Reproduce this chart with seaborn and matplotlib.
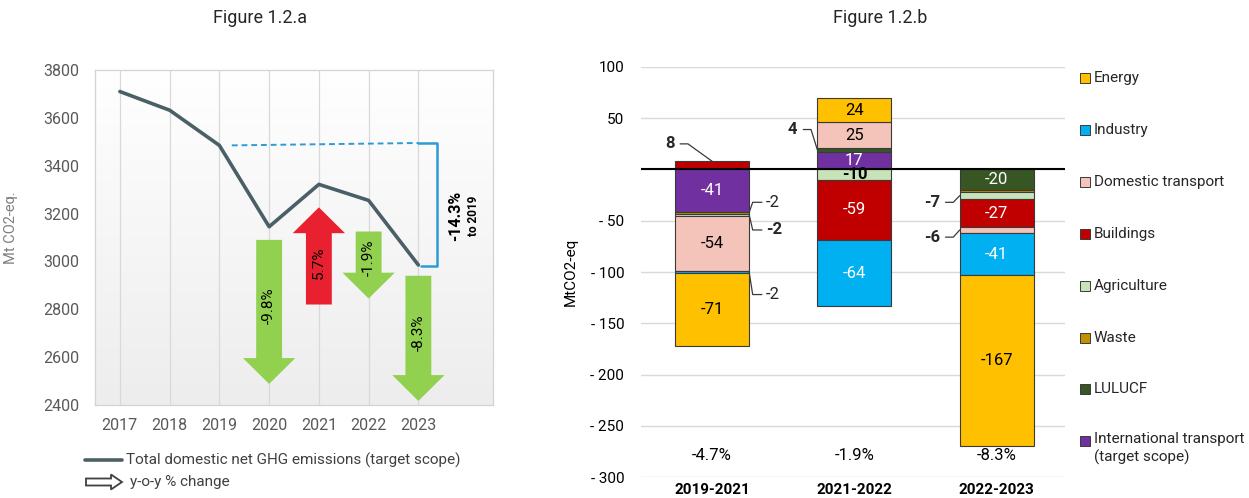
import numpy as np
import pandas as pd
import seaborn as sns
import matplotlib.pyplot as plt
from matplotlib.patches import FancyArrow, Rectangle
from matplotlib.lines import Line2D
from matplotlib.colors import LinearSegmentedColormap
from matplotlib.transforms import IdentityTransform

# ---- Figure 1.2.a data ----
years = [2017, 2018, 2019, 2020, 2021, 2022, 2023]
emissions = [3710, 3632, 3485, 3145, 3322, 3255, 2985]

arrow_years = [2020, 2021, 2022, 2023]
arrow_start = [3090, 2820, 3125, 2940]
arrow_end = [2488, 3226, 2845, 2417]
arrow_labels = ["-9.8%", "5.7%", "-1.9%", "-8.3%"]
arrow_label_y = [2815, 2996, 3017, 2703]
total_change = "-14.3%"

# ---- Figure 1.2.b data ----
periods = ["2019-2021", "2021-2022", "2022-2023"]
period_change = ["-4.7%", "-1.9%", "-8.3%"]
sectors = ["Energy", "Industry", "Domestic transport", "Buildings", "Agriculture",
           "Waste", "LULUCF", "International transport\n(target scope)"]
energy = [-71, 24, -167]
industry = [-2, -64, -41]
domestic_transport = [-54, 25, -6]
buildings = [8, -59, -27]
agriculture = [-2, -10, -7]
waste = [-2, 0, -2]
lulucf = [0, 4, -20]
intl_transport = [-41, 17, 0]

colors = ["#FFC000", "#00B0F0", "#F4C3B9", "#C00000", "#C9E3B8",
          "#BF9000", "#375623", "#7030A0"]
white_text = ["Industry", "Buildings", "LULUCF", "International transport\n(target scope)"]

df = pd.DataFrame({
    "period": periods,
    "Energy": energy, "Industry": industry, "Domestic transport": domestic_transport,
    "Buildings": buildings, "Agriculture": agriculture, "Waste": waste,
    "LULUCF": lulucf, "International transport\n(target scope)": intl_transport,
})

sns.set_theme(style="white")
plt.rcParams['font.family'] = ['Roboto', 'DejaVu Sans']

W, H = 1249, 498
fig = plt.figure(figsize=(W / 100, H / 100), dpi=100)


def px_rect(l, t, r, b):
    return [l / W, 1 - b / H, (r - l) / W, (b - t) / H]


ax1 = fig.add_axes(px_rect(95, 70, 493, 405))
ax2 = fig.add_axes(px_rect(641, 67, 1065, 477))

# ================= left chart =================
grad = np.linspace(1, 0, 256).reshape(-1, 1)
bg = LinearSegmentedColormap.from_list("bg", ["#EDEDED", "#FFFFFF"])
ax1.imshow(grad, extent=[2016.5, 2024.5, 2400, 3800], aspect="auto", cmap=bg, zorder=0)

sns.lineplot(x=years, y=emissions, ax=ax1, color="#4B5F66", linewidth=2.6, zorder=3)

for yr, y0, y1, lab, ly in zip(arrow_years, arrow_start, arrow_end, arrow_labels, arrow_label_y):
    up = y1 > y0
    fc = "#E8202F" if up else "#92D050"
    ax1.add_patch(FancyArrow(yr, y0, 0, y1 - y0, width=0.52, head_width=1.05,
                             head_length=108, length_includes_head=True,
                             fc=fc, ec="none", zorder=4))
    ax1.text(yr, ly, lab, rotation=90, ha="center", va="center", fontsize=11,
             color="black", zorder=5)

blue = "#2E9BD6"
ax1.plot([2019.25, 2023.0], [emissions[2], emissions[2] + 10], ls=(0, (3, 2)),
         color=blue, lw=1.4, zorder=3)
ax1.plot([2023.0, 2023.37, 2023.37, 2023.06],
         [emissions[2] + 10, emissions[2] + 10, emissions[-1] - 6, emissions[-1] - 6],
         color=blue, lw=1.8, zorder=3)
ax1.text(2023.74, 3190, total_change, rotation=90, ha="center", va="center",
         fontsize=11.5, fontweight="bold", color="black")
ax1.text(2024.1, 3190, "to 2019", rotation=90, ha="center", va="center",
         fontsize=8.5, fontweight="bold", color="black")

ax1.set_xlim(2016.5, 2024.5)
ax1.set_ylim(2400, 3800)
ax1.set_xticks(years)
ax1.set_yticks(range(2400, 3801, 200))
ax1.set_axisbelow(True)
ax1.grid(axis="x", color="#D9D9D9", lw=0.9)
ax1.grid(axis="y", visible=False)
for s in ax1.spines.values():
    s.set_color("#D3D3D3")
    s.set_linewidth(0.9)
ax1.tick_params(axis="both", length=0, labelcolor="#595959", labelsize=11.5)
ax1.tick_params(axis="y", pad=11)
ax1.tick_params(axis="x", pad=9)
ax1.set_ylabel("Mt CO2-eq.", color="#7F7F7F", fontsize=10.5)
ax1.yaxis.set_label_coords(-0.193, 0.53)

# legend below left chart
fig.add_artist(Line2D([85 / W, 122 / W], [1 - 460 / H] * 2, color="#4B5F66", lw=2.6))
fig.text(126 / W, 1 - 460 / H, "Total domestic net GHG emissions (target scope)",
         ha="left", va="center", fontsize=11, color="#404040")
fig.add_artist(FancyArrow(86, H - 482, 36, 0, width=7, head_width=15, head_length=11,
                          length_includes_head=True, transform=IdentityTransform(),
                          fc="white", ec="#404040", lw=1.3))
fig.text(130 / W, 1 - 482 / H, "y-o-y % change", ha="left", va="center",
         fontsize=11, color="#404040")

# ================= right chart =================
x = np.arange(len(periods))
bar_w = 0.52
pos_base = np.zeros(len(periods))
neg_base = np.zeros(len(periods))
seg_center = {}
for sector, col in zip(sectors[::-1], colors[::-1]):
    vals = df[sector].to_numpy(dtype=float)
    bottoms = np.where(vals >= 0, pos_base, neg_base)
    m = vals != 0
    ax2.bar(x[m], vals[m], bottom=bottoms[m], width=bar_w, color=col,
            edgecolor="#3A3A3A", linewidth=0.8, zorder=3)
    for i in np.where(m)[0]:
        c = bottoms[i] + vals[i] / 2
        seg_center[(i, sector)] = (bottoms[i], bottoms[i] + vals[i])
        if abs(vals[i]) >= 10:
            tc = "white" if sector in white_text else "black"
            fw = "bold" if abs(vals[i]) == 10 else "normal"
            ax2.text(x[i], c, f"{vals[i]:.0f}", ha="center", va="center",
                     fontsize=12, color=tc, fontweight=fw, zorder=5)
    pos_base = pos_base + np.where(vals > 0, vals, 0)
    neg_base = neg_base + np.where(vals < 0, vals, 0)

# small segments labelled outside with leader lines
small = [
    (0, "Buildings", "8", 25, True),
    (0, "Waste", "-2", -32, False),
    (0, "Agriculture", "-2", -59, True),
    (0, "Industry", "-2", -122, False),
    (1, "LULUCF", "4", 39, True),
    (2, "Agriculture", "-7", -32, True),
    (2, "Domestic transport", "-6", -66, True),
]
for i, sector, txt, ty, bold in small:
    b0, b1 = seg_center[(i, sector)]
    cy = (b0 + b1) / 2
    fw = "bold" if bold else "normal"
    if sector == "Buildings":
        xs = [x[i], x[i] - 0.17, x[i] - 0.225]
        ys = [b1, ty, ty]
        ax2.text(x[i] - 0.26, ty, txt, ha="right", va="center", fontsize=12, fontweight=fw)
    elif i == 0:
        e = x[i] + bar_w / 2
        xs = [e, e + 0.025, e + 0.09]
        ys = [cy, ty, ty]
        ax2.text(e + 0.12, ty, txt, ha="left", va="center", fontsize=12, fontweight=fw)
    else:
        e = x[i] - bar_w / 2
        xs = [e, e - 0.045, e - 0.10]
        ys = [cy, ty, ty]
        ax2.text(e - 0.14, ty, txt, ha="right", va="center", fontsize=12, fontweight=fw)
    ax2.plot(xs, ys, color="#3A3A3A", lw=0.9, zorder=4, clip_on=False)

for i, pc in enumerate(period_change):
    ax2.text(x[i], -279, pc, ha="center", va="center", fontsize=12, color="black")

ax2.axhline(0, color="black", lw=1.5, zorder=4)
ax2.set_xlim(-0.5, 2.48)
ax2.set_ylim(-300, 100)
yt = list(range(-300, 101, 50))
ax2.set_yticks(yt)
ax2.set_yticklabels([("" if v == 0 else (str(v) if v > 0 else f"- {abs(v)}")) for v in yt])
ax2.set_xticks(x)
ax2.set_xticklabels(periods, fontweight="bold")
ax2.grid(axis="y", color="#D9D9D9", lw=1, zorder=0)
ax2.grid(axis="x", visible=False)
for s in ax2.spines.values():
    s.set_visible(False)
ax2.tick_params(axis="both", length=0, labelsize=11, labelcolor="black")
ax2.tick_params(axis="y", pad=12)
ax2.tick_params(axis="x", pad=4)
ax2.set_ylabel("MtCO2-eq", fontsize=11, color="black")
ax2.yaxis.set_label_coords(-0.149, 0.5)

# legend on the right
for k, (sector, col) in enumerate(zip(sectors, colors)):
    yp = 78 + k * 51.9
    fig.add_artist(Rectangle((1080 / W, 1 - (yp + 5) / H), 10 / W, 10 / H,
                             transform=fig.transFigure, fc=col, ec="#3A3A3A", lw=0.7))
    if "\n" in sector:
        fig.text(1094 / W, 1 - (yp - 9) / H, sector, ha="left", va="top",
                 fontsize=11, linespacing=1.3)
    else:
        fig.text(1094 / W, 1 - yp / H, sector, ha="left", va="center", fontsize=11)

fig.text(260 / W, 1 - 18 / H, "Figure 1.2.a", ha="center", va="center", fontsize=13)
fig.text(880 / W, 1 - 18 / H, "Figure 1.2.b", ha="center", va="center", fontsize=13)

fig.savefig("out.png", dpi=100)
